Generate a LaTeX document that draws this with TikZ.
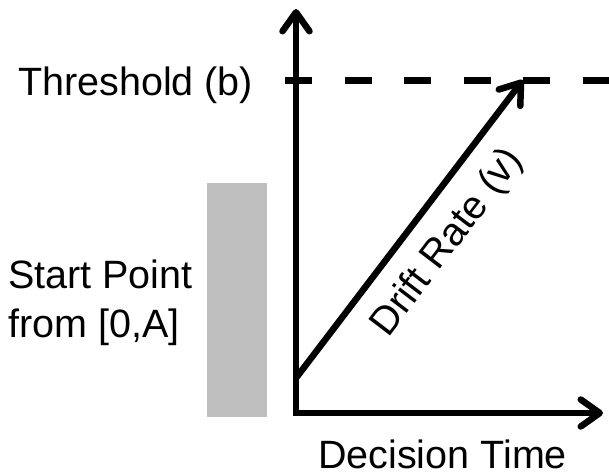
\documentclass[tikz,border=0pt]{standalone}
\usepackage{fontspec}
\setmainfont{Liberation Sans}
\usetikzlibrary{arrows.meta}
\definecolor{startgray}{RGB}{191,191,191}
\begin{document}
\begin{tikzpicture}[x=1pt,y=-1pt,
  barb/.tip={Straight Barb[length=19pt,width=27pt,line cap=round,line join=round]},
  axisline/.style={line width=6.5pt,line join=miter},
  driftline/.style={line width=6.5pt,-barb},
  thresh/.style={line width=7pt,dash pattern=on 27pt off 32.5pt},
  lbl/.style={font=\fontsize{39.5}{48}\selectfont,inner sep=0pt}]
\useasboundingbox (0,0) rectangle (609,474);
% start point range
\fill[startgray] (207,183) rectangle (267,417);
% coordinates
\coordinate (ytop) at (296,9);
\coordinate (origin) at (296,413);
\coordinate (xend) at (603,413);
\coordinate (thL) at (285,80);
\coordinate (thR) at (609,80);
\coordinate (dstart) at (296,378);
\coordinate (dtip) at (523,80);
% threshold dashed
\draw[thresh] (thL) -- (thR);
% axes
\draw[axisline,barb-barb] (ytop) -- (origin) -- (xend);
% drift arrow
\draw[driftline] (dstart) -- (dtip);
% labels
\node[lbl,anchor=base west] (threshold) at (18,95) {Threshold (b)};
\node[lbl,anchor=base west,align=left] (startpt) at (8,337) {Start Point\\[1pt]from [0,A]};
\node[lbl,anchor=base west] (dtime) at (318,468) {Decision Time};
\node[lbl,rotate=52.7] (drift) at (448,243) {Drift Rate (v)};
\end{tikzpicture}
\end{document}
